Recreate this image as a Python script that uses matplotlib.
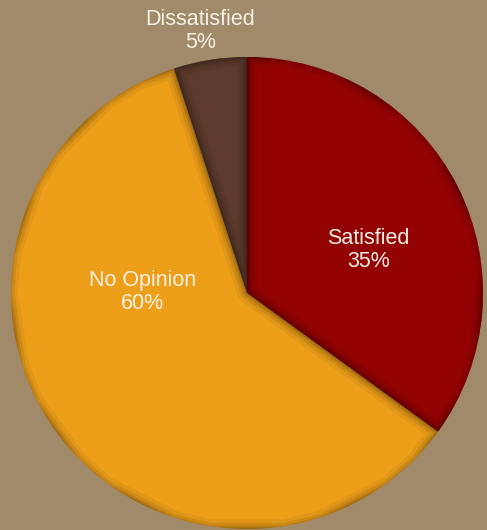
import numpy as np
import matplotlib.pyplot as plt
from matplotlib.colors import to_rgb

labels = ['Satisfied', 'No Opinion', 'Dissatisfied']
shares = [35, 60, 5]
colors = ['#930303', '#EE9F1A', '#5E3B2C']
bg = '#A08A69'

# label placement (radius as fraction of pie radius, angle in degrees)
label_r = [0.546, 0.443, 1.127]
label_ang = [19.4, 179.5, 100.1]

plt.rcParams['font.family'] = ['Liberation Sans', 'DejaVu Sans']

fig = plt.figure(figsize=(4.87, 5.30), dpi=100, facecolor=bg)
ax = fig.add_axes([10 / 487, 1 - 529 / 530, 474 / 487, 472 / 530])
ax.set_facecolor(bg)

wedges, _ = ax.pie(shares, colors=colors, startangle=90, counterclock=False,
                   radius=1, wedgeprops=dict(linewidth=0))

# bevelled rim: darker strokes clipped inside each wedge
for w, c in zip(wedges, colors):
    r, g, b = to_rgb(c)
    dark = (r * 0.45, g * 0.45, b * 0.45)
    for lw, a in [(14, 0.10), (9, 0.14), (5, 0.22), (2, 0.35)]:
        edge = plt.Polygon(w.get_path().vertices, closed=True, fill=False,
                           edgecolor=dark, linewidth=lw, alpha=a,
                           transform=w.get_transform(), joinstyle='round')
        ax.add_patch(edge)
        edge.set_clip_path(w)

for lab, v, r, ang in zip(labels, shares, label_r, label_ang):
    t = np.deg2rad(ang)
    ax.text(r * np.cos(t), r * np.sin(t), f'{lab}\n{v}%', ha='center', va='center',
            fontsize=15.5, color='#F7F0E4', linespacing=1.15)

ax.set_xlim(-1, 1)
ax.set_ylim(-1, 1)
ax.set_aspect('equal')
ax.axis('off')

fig.savefig('out.png', dpi=100, facecolor=bg)
